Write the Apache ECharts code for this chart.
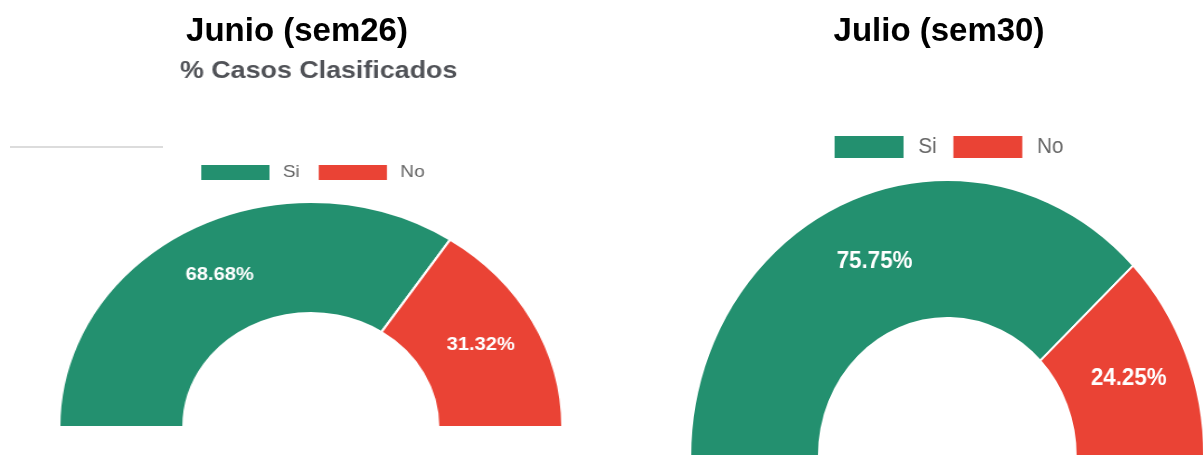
<!DOCTYPE html>
<html>
<head>
<meta charset="utf-8">
<script src="https://cdn.jsdelivr.net/npm/echarts@6/dist/echarts.min.js"></script>
<style>
  html, body {
    margin: 0;
    padding: 0;
    background: #ffffff;
    overflow: hidden;
  }
  #page {
    position: absolute;
    left: 0;
    top: 0;
    width: 1203px;
    height: 457px;
  }
  /* the two pictures in the slide are stretched differently */
  #leftChart {
    position: absolute;
    left: 0;
    top: 0;
    width: 536px;
    height: 457px;
    transform: scale(1.118, 1);
    transform-origin: 0 0;
  }
  #rightChart {
    position: absolute;
    left: 600px;
    top: 0;
    width: 650px;
    height: 457px;
    transform: scale(0.931, 1);
    transform-origin: 0 0;
  }
</style>
</head>
<body>
<div id="page"></div>
<div id="leftChart"></div>
<div id="rightChart"></div>
<script>
  // datos
  let months = ['Junio (sem26)', 'Julio (sem30)']
  let categories = ['Si', 'No']
  let siValues = [68.68, 75.75]
  let noValues = [31.32, 24.25]
  let subTitle = '% Casos Clasificados'
  let colors = ['#23906F', '#EA4335']

  let font = 'Arial, "Liberation Sans", sans-serif'

  // slide titles + the little grey line
  let pageChart = echarts.init(document.getElementById('page'))
  pageChart.setOption({
    animation: false,
    title: [{
      text: months[0],
      left: 292,
      top: 10,
      textAlign: 'center',
      textStyle: {fontSize: 33, fontWeight: 'bold', color: '#000', fontFamily: font}
    }, {
      text: months[1],
      left: 934,
      top: 10,
      textAlign: 'center',
      textStyle: {fontSize: 33, fontWeight: 'bold', color: '#000', fontFamily: font}
    }],
    graphic: [{
      type: 'line',
      shape: {x1: 10, y1: 147, x2: 163, y2: 147},
      style: {stroke: '#d0d0d0', lineWidth: 1.5}
    }]
  })

  function buildPie(idx, opt) {
    let data = [
      {name: categories[0], value: siValues[idx]},
      {name: categories[1], value: noValues[idx]}
    ]
    return {
      animation: false,
      color: colors,
      title: opt.title,
      legend: {
        data: categories,
        left: opt.legendLeft,
        top: opt.legendTop,
        icon: 'rect',
        itemWidth: opt.boxW,
        itemHeight: opt.boxH,
        itemGap: opt.itemGap,
        selectedMode: false,
        textStyle: {
          color: '#666',
          fontSize: opt.legendFont,
          fontFamily: font,
          padding: [0, 0, 0, opt.textPad]
        }
      },
      series: [{
        type: 'pie',
        center: opt.center,
        radius: opt.radius,
        startAngle: 180,
        endAngle: 0,
        clockwise: true,
        avoidLabelOverlap: false,
        silent: true,
        itemStyle: {borderColor: '#fff', borderWidth: 2},
        label: {
          show: true,
          position: 'inside',
          color: '#fff',
          fontSize: opt.labelFont,
          fontWeight: 'bold',
          fontFamily: font,
          textBorderWidth: 0,
          formatter: function (p) {
            return p.value.toFixed(2) + '%'
          }
        },
        labelLine: {show: false},
        emphasis: {disabled: true},
        data: data
      }]
    }
  }

  let leftChart = echarts.init(document.getElementById('leftChart'))
  leftChart.setOption(buildPie(0, {
    title: {
      text: subTitle,
      left: 280,
      top: 54,
      textAlign: 'center',
      textStyle: {fontSize: 24, fontWeight: 'bold', color: '#505257', fontFamily: font}
    },
    legendLeft: 173,
    legendTop: 158,
    boxW: 63,
    boxH: 17,
    itemGap: 15,
    textPad: 6,
    legendFont: 17,
    center: [278, 427],
    radius: [114, 225],
    labelFont: 18
  }))

  let rightChart = echarts.init(document.getElementById('rightChart'))
  rightChart.setOption(buildPie(1, {
    title: {show: false},
    legendLeft: 245,
    legendTop: 129,
    boxW: 76,
    boxH: 24,
    itemGap: 16,
    textPad: 10,
    legendFont: 22,
    center: [373, 456],
    radius: [138, 276],
    labelFont: 24
  }))
</script>
</body>
</html>
